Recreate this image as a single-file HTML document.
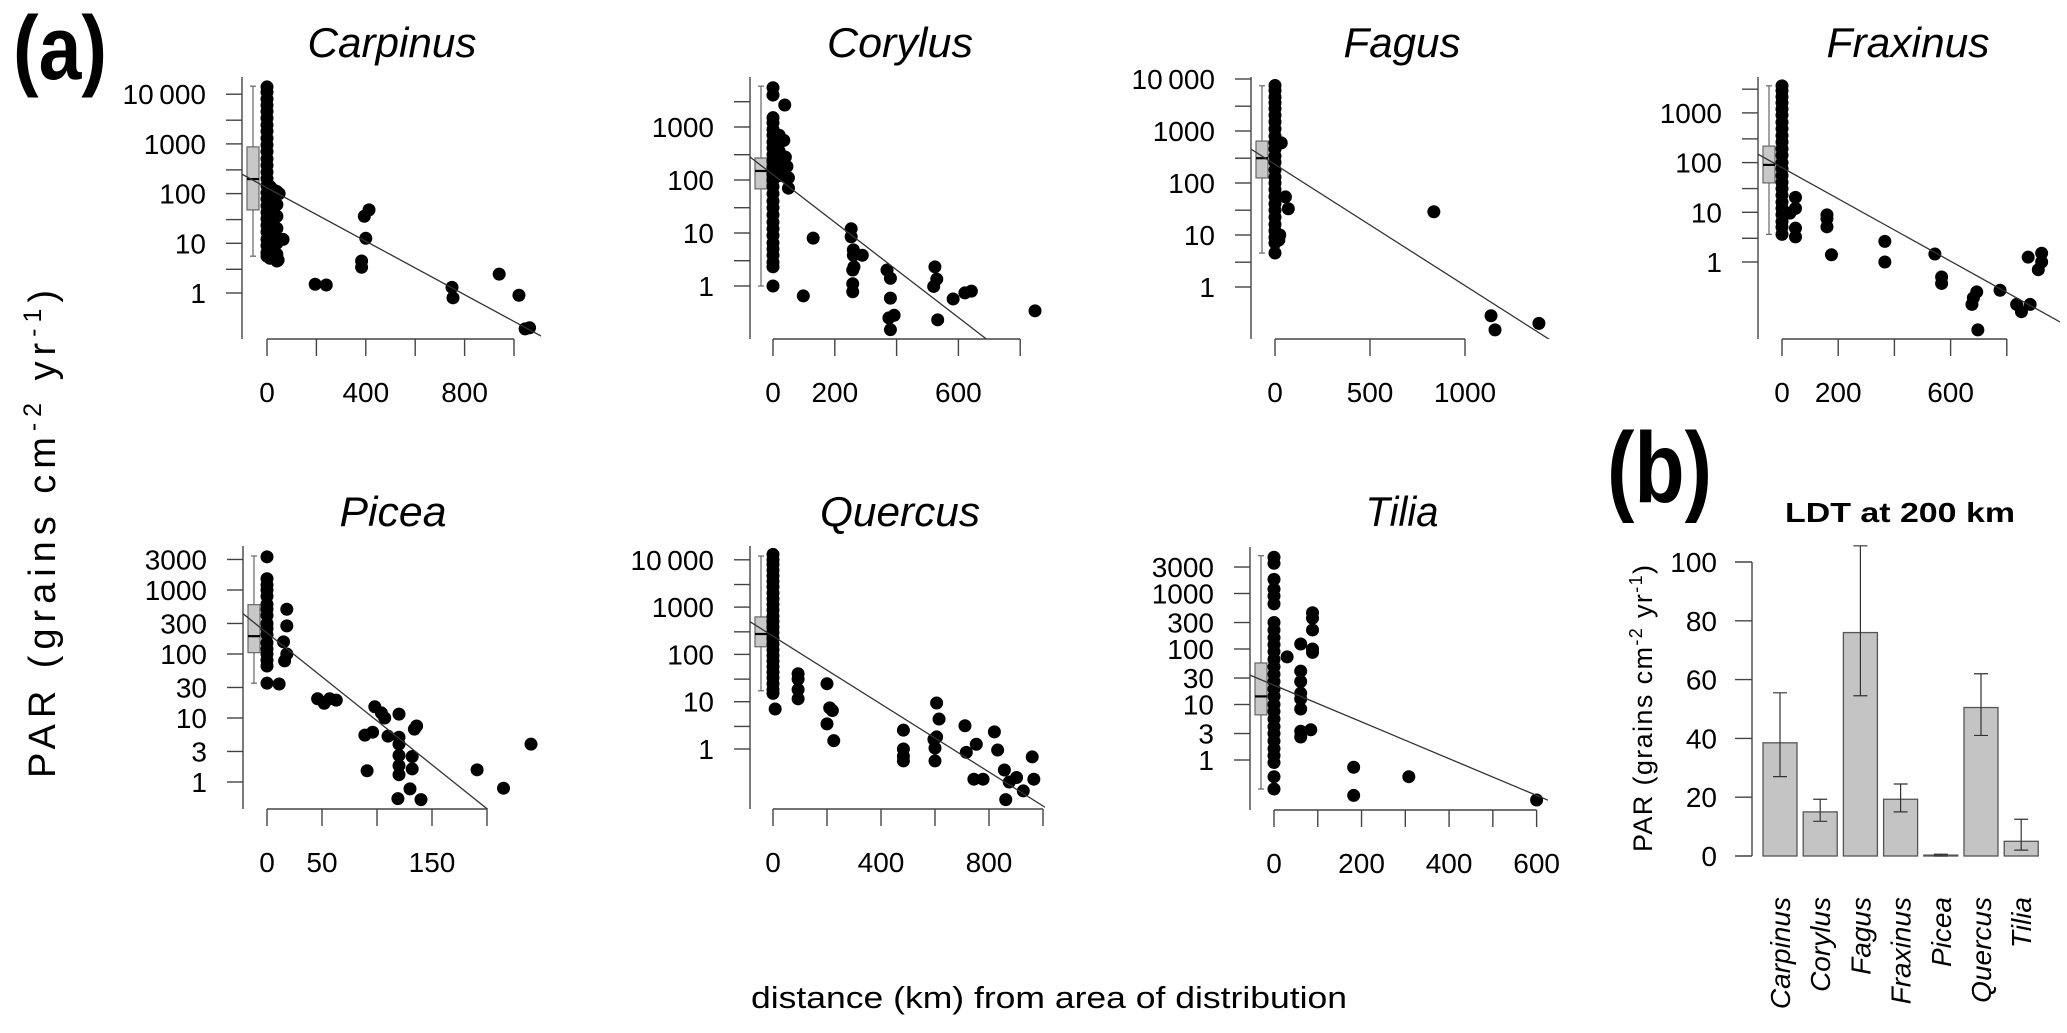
<!DOCTYPE html>
<html><head><meta charset="utf-8"><style>
html,body{margin:0;padding:0;background:#fff;}
svg{display:block;font-family:"Liberation Sans",Arial,sans-serif;}
</style></head><body>
<svg id="chart" width="2067" height="1033" viewBox="0 0 2067 1033" xmlns="http://www.w3.org/2000/svg">
<defs id="defs"></defs>
<text x="13" y="79" font-size="90" font-weight="bold" textLength="94" lengthAdjust="spacingAndGlyphs">(a)</text>
<text x="1607" y="502" font-size="100" font-weight="bold" textLength="105" lengthAdjust="spacingAndGlyphs">(b)</text>
<text x="751" y="1008" font-size="31" textLength="596" lengthAdjust="spacingAndGlyphs">distance (km) from area of distribution</text>
<text transform="translate(55,778) rotate(-90)" font-size="38" textLength="488" lengthAdjust="spacing">PAR (grains cm<tspan font-size="25" dy="-14">-2</tspan><tspan dy="14"> yr</tspan><tspan font-size="25" dy="-14">-1</tspan><tspan dy="14">)</tspan></text>
<text x="1785" y="522" font-size="28" font-weight="bold" textLength="230" lengthAdjust="spacingAndGlyphs">LDT at 200 km</text>
<text transform="translate(1652,852) rotate(-90)" font-size="27" textLength="287" lengthAdjust="spacing">PAR (grains cm<tspan font-size="18" dy="-10">-2</tspan><tspan dy="10"> yr</tspan><tspan font-size="18" dy="-10">-1</tspan><tspan dy="10">)</tspan></text>
</svg>
<script>
// ---------- scatter data ----------
const carpinusKm  = [0,0,0,0,0,0,0,0,0,0,0,0,0,0,0,0,0,0,0,0,0,0,0,0,0,0,0, 12,12,12,12,12,12,12,12,12,12,12, 25,25,25,25,25,25,25,25,25, 40,40,40,40,40,40,40, 49,65,45,195,240,413,394,400,383,383,749,753,940,1020,1045,1063];
const carpinusPar = [14000,11000,8000,6000,4500,3300,2400,1800,1300,950,700,500,370,270,200,145,105,78,57,42,31,23,17,12,9,6.5,5.5, 140,100,70,50,35,25,18,13,9,6.5,5, 120,80,55,38,26,17,11,7,5, 110,60,35,20,10,6,4.4, 100,12,4.6,1.5,1.45,47,35,12.6,4.4,3.3,1.3,0.8,2.4,0.9,0.19,0.2];
const corylusKm  = [0,0,0,0,0,0,0,0,0,0,0,0,0,0,0,0,0,0,0,0,0,0,0,0,0,0,0, 20,20,20,20,20,20, 38,35,40,45,50,50,130,98,253,253,260,260,262,258,258,258,289,369,380,380,375,380,392,524,530,520,533,583,621,642,848];
const corylusPar = [5500,4000,1500,1200,900,700,520,400,300,230,170,130,100,75,55,40,30,22,16,12,9,6.5,5,3.8,2.8,2.3,1, 700,500,350,250,180,120, 2600,560,270,180,110,70,8,0.65,12,8.5,3.8,4.8,2.3,2,1.1,0.78,3.8,2,1.4,0.59,0.25,0.15,0.28,2.3,1.35,0.98,0.23,0.57,0.74,0.8,0.34];
const fagusKm  = [0,0,0,0,0,0,0,0,0,0,0,0,0,0,0,0,0,0,0,0,0,0,0,0,0,0, 33,55,70,25,20,836,1137,1158,1389];
const fagusPar = [7500,6000,4500,3500,2700,2000,1500,1100,800,600,450,330,250,180,130,100,75,55,40,30,22,16,12,9,7,4.5, 590,54,32,10,8,28,0.28,0.15,0.2];
const fraxinusKm  = [0,0,0,0,0,0,0,0,0,0,0,0,0,0,0,0,0,0,0,0,0,0,0,0, 28,48,48,48,48,160,160,160,176,366,366,544,568,568,693,681,676,697,776,835,852,883,876,924,912,924];
const fraxinusPar = [3500,2800,2100,1600,1200,900,650,480,350,260,190,140,100,75,55,40,30,22,16,12,9,6.5,5,3.6, 9.6,20,12,4.8,3.2,8.9,7.4,5.1,1.4,2.6,1.0,1.45,0.5,0.37,0.25,0.19,0.14,0.043,0.27,0.14,0.1,0.14,1.25,1.5,0.7,1.0];
const piceaKm  = [0,0,0,0,0,0,0,0,0,0,0,0,0,0,0,0,0, 11,15,16,18,18,18,46,52,57,63,89,91,98,104,107,96,110,120,120,120,120,120,120,134,136,132,132,130,119,140,191,215,240];
const piceaPar = [3300,1500,1200,1000,800,600,500,400,300,250,200,150,120,100,80,65,35, 34,155,78,100,500,275,20,17,20,19,5.4,1.5,15,12,10,6,5.2,11.5,5,3.9,2.6,1.8,1.3,6.7,7.5,2.5,1.6,0.78,0.55,0.53,1.55,0.8,3.9];
const quercusKm  = [0,0,0,0,0,0,0,0,0,0,0,0,0,0,0,0,0,0,0,0,0,0,0,0,0,0, 8,93,93,93,93,200,210,220,200,225,483,483,483,483,606,615,596,606,600,600,711,716,753,744,778,820,832,857,862,875,902,927,966,960];
const quercusPar = [13000,10000,8000,6000,4600,3500,2700,2000,1500,1150,870,650,500,380,290,220,165,125,95,72,55,42,32,24,18,15, 7,39,30,18,11.5,24,7.4,6.5,3.4,1.5,2.5,1,0.7,0.56,9.4,4.3,1.6,1.8,1.05,0.56,3.1,0.85,1.26,0.23,0.23,2.3,0.95,0.36,0.085,0.2,0.25,0.13,0.23,0.68];
const tiliaKm  = [0,0,0,0,0,0,0,0,0,0,0,0,0,0,0,0,0,0,0,0,0,0,0,0,0,0,0,0, 30,61,61,61,61,61,61,61,61,88,88,88,88,88,84,182,182,308,600];
const tiliaPar = [4500,3500,1800,1200,900,650,300,220,160,120,90,65,48,35,26,19,14,10,7.5,5.5,4,3,2.2,1.6,1.2,0.9,0.5,0.3, 72,123,40,26,16,12.6,8.3,2.6,3.3,100,360,450,220,87,3.5,0.74,0.23,0.5,0.19];
// box stats: [lower whisker, q1, median, q3, upper whisker]
const carpinusBox = [5.5,47,196,870,14500];
const corylusBox  = [1,68,148,260,5900];
const fagusBox    = [4.5,125,300,640,7400];
const fraxinusBox = [3.6,39,90,215,3500];
const piceaBox    = [35,105,190,590,3400];
const quercusBox  = [17,145,270,620,12000];
const tiliaBox    = [0.3,6.5,14,56,4800];
// regression: [log10 intercept, slope per km]
const carpinusFit = [2.118,-0.00269];
const corylusFit  = [2.10,-0.00449];
const fagusFit    = [2.357,-0.00233];
const fraxinusFit = [1.90,-0.00314];
const piceaFit    = [2.33,-0.01374];
const quercusFit  = [2.385,-0.00359];
const tiliaFit    = [1.348,-0.00331];
// ---------- bar data ----------
const barNames = ["Carpinus","Corylus","Fagus","Fraxinus","Picea","Quercus","Tilia"];
const barValues = [38.5,15,76,19.3,0.3,50.5,5];
const barLower = [27,11.8,54.5,15,0,41,2];
const barUpper = [55.5,19.3,105.5,24.5,0.6,62,12.5];
const barTicks = [0,20,40,60,80,100];

const NS = 'http://www.w3.org/2000/svg';
const svg = document.getElementById('chart');
const defs = document.getElementById('defs');
function mk(tag, attrs, parent){
  const e = document.createElementNS(NS, tag);
  for (const k in attrs) e.setAttribute(k, attrs[k]);
  (parent || svg).appendChild(e);
  return e;
}
const AX = '#444';

const layouts = [
  {id:'carpinus', title:'Carpinus', tx:392, ty:57, tw:169, ax:242, x0:267, kx:0.247, y1:293, dec:49.7, yTop:77, yBot:339, right:541, xTicks:[0,200,400,600,800,1000], xLabels:[0,400,800], majors:[1,10,100,1000,10000], minors:[3,30,300,3000]},
  {id:'corylus', title:'Corylus', tx:900, ty:57, tw:146, ax:750, x0:773, kx:0.309, y1:286, dec:53, yTop:77, yBot:339, right:1042, xTicks:[0,200,400,600,800], xLabels:[0,200,600], majors:[1,10,100,1000], minors:[3,30,300,3000]},
  {id:'fagus', title:'Fagus', tx:1402, ty:57, tw:117, ax:1251, x0:1275, kx:0.19, y1:287, dec:52, yTop:77, yBot:339, right:1550, xTicks:[0,500,1000], xLabels:[0,500,1000], majors:[1,10,100,1000,10000], minors:[3,30,300,3000]},
  {id:'fraxinus', title:'Fraxinus', tx:1908, ty:57, tw:163, ax:1758, x0:1782, kx:0.281, y1:262, dec:49.7, yTop:77, yBot:339, right:2060, xTicks:[0,200,400,600,800], xLabels:[0,200,600], majors:[1,10,100,1000], minors:[3,30,300,3000]},
  {id:'picea', title:'Picea', tx:393, ty:526, tw:107, ax:243, x0:267, kx:1.1, y1:782, dec:64, yTop:546, yBot:809, right:545, xTicks:[0,50,100,150,200], xLabels:[0,50,150], majors:[1,3,10,30,100,300,1000,3000], minors:[]},
  {id:'quercus', title:'Quercus', tx:900, ty:526, tw:160, ax:750, x0:773, kx:0.27, y1:749, dec:47.3, yTop:546, yBot:809, right:1045, xTicks:[0,200,400,600,800,1000], xLabels:[0,400,800], majors:[1,10,100,1000,10000], minors:[3,30,300,3000]},
  {id:'tilia', title:'Tilia', tx:1402, ty:526, tw:73, ax:1250, x0:1274, kx:0.4377, y1:760, dec:55.5, yTop:547, yBot:810, right:1548, xTicks:[0,100,200,300,400,500,600], xLabels:[0,200,400,600], majors:[1,3,10,30,100,300,1000,3000], minors:[]}
];
const series = {
  carpinus:[carpinusKm,carpinusPar,carpinusBox,carpinusFit],
  corylus:[corylusKm,corylusPar,corylusBox,corylusFit],
  fagus:[fagusKm,fagusPar,fagusBox,fagusFit],
  fraxinus:[fraxinusKm,fraxinusPar,fraxinusBox,fraxinusFit],
  picea:[piceaKm,piceaPar,piceaBox,piceaFit],
  quercus:[quercusKm,quercusPar,quercusBox,quercusFit],
  tilia:[tiliaKm,tiliaPar,tiliaBox,tiliaFit]
};
function fmt(v){ return v >= 10000 ? String(v).replace(/(\d+)(\d{3})$/, '$1\u2009$2') : String(v); }

layouts.forEach(L => {
  const [km, par, box, fit] = series[L.id];
  const xs = k => L.x0 + k * L.kx;
  const ys = v => L.y1 - Math.log10(v) * L.dec;
  const g = mk('g', {});
  
  
  const t = mk('text', {x:L.tx, y:L.ty, 'font-size':42, 'font-style':'italic', 'text-anchor':'middle', textLength:L.tw, lengthAdjust:'spacingAndGlyphs'}, g);
  t.textContent = L.title;
  
  
  const ya = mk('line', {x1:L.ax, x2:L.ax, y1:L.yTop, y2:L.yBot, stroke:AX, 'stroke-width':1.4}, g);
  
  
  L.majors.concat(L.minors).forEach(v => {
    const y = ys(v);
    const tk = mk('line', {x1:L.ax-16, x2:L.ax, y1:y, y2:y, stroke:AX, 'stroke-width':1.4}, g);
    
    
  });
  L.majors.forEach(v => {
    const lb = mk('text', {x:L.ax-36, y:ys(v)+10, 'font-size':28, 'text-anchor':'end'}, g);
    lb.textContent = fmt(v);
    
    
  });
  const xEnd = xs(L.xTicks[L.xTicks.length-1]);
  const xa = mk('line', {x1:xs(0), x2:xEnd, y1:L.yBot, y2:L.yBot, stroke:AX, 'stroke-width':1.4}, g);
  
  
  L.xTicks.forEach(k => {
    const tk = mk('line', {x1:xs(k), x2:xs(k), y1:L.yBot, y2:L.yBot+17, stroke:AX, 'stroke-width':1.4}, g);
    
    
  });
  L.xLabels.forEach(k => {
    const lb = mk('text', {x:xs(k), y:L.yBot+63, 'font-size':28, 'text-anchor':'middle'}, g);
    lb.textContent = String(k);
    
    
  });
  const bx = L.ax + 11;
  const wl = mk('line', {x1:bx, x2:bx, y1:ys(box[4]), y2:ys(box[0]), stroke:'#666', 'stroke-width':1.2}, g);
  
  
  [box[0], box[4]].forEach(v => {
    const c = mk('line', {x1:bx-3, x2:bx+3, y1:ys(v), y2:ys(v), stroke:'#666', 'stroke-width':1.2}, g);
    
    
  });
  const br = mk('rect', {x:bx-6, y:ys(box[3]), width:12, height:ys(box[1])-ys(box[3]), fill:'#c8c8c8', stroke:'#666', 'stroke-width':1.2}, g);
  
  
  const md = mk('line', {x1:bx-6, x2:bx+6, y1:ys(box[2]), y2:ys(box[2]), stroke:'#000', 'stroke-width':2.2}, g);
  
  
  km.forEach((k, i) => {
    const c = mk('circle', {cx:xs(k), cy:ys(par[i]), r:6.5, fill:'#000'}, g);
    
    
  });
  const cp = mk('clipPath', {id:'clip-' + L.id}, defs);
  mk('rect', {x:L.ax, y:L.yTop, width:L.right-L.ax, height:L.yBot-L.yTop}, cp);
  const kA = (L.ax - L.x0) / L.kx, kB = (L.right - L.x0) / L.kx;
  const fl = mk('line', {x1:xs(kA), y1:L.y1 - (fit[0] + fit[1]*kA)*L.dec, x2:xs(kB), y2:L.y1 - (fit[0] + fit[1]*kB)*L.dec, stroke:'#333', 'stroke-width':1.3, 'clip-path':'url(#clip-' + L.id + ')'}, g);
  
  
});

// ---------- bar chart ----------
const bAx = 1752, bBase = 856, bK = 2.94, bLeft = 1763, bW = 34, bPitch = 40.2;
const by = v => bBase - v * bK;
const bg = mk('g', {});


const bya = mk('line', {x1:bAx, x2:bAx, y1:by(100), y2:by(0), stroke:AX, 'stroke-width':1.4}, bg);


barTicks.forEach(v => {
  const tk = mk('line', {x1:bAx-17, x2:bAx, y1:by(v), y2:by(v), stroke:AX, 'stroke-width':1.4}, bg);
  
  
  const lb = mk('text', {x:bAx-35, y:by(v)+10, 'font-size':28, 'text-anchor':'end'}, bg);
  lb.textContent = String(v);
  
  
});
barNames.forEach((n, i) => {
  const x = bLeft + i * bPitch, cx = x + bW/2;
  const r = mk('rect', {x:x, y:by(barValues[i]), width:bW, height:Math.max(by(0)-by(barValues[i]),0.5), fill:'#c4c4c4', stroke:'#555', 'stroke-width':1.3}, bg);
  
  
  const e = mk('path', {d:`M${cx-7},${by(barUpper[i])}H${cx+7}M${cx},${by(barUpper[i])}V${by(barLower[i])}M${cx-7},${by(barLower[i])}H${cx+7}`, stroke:'#333', 'stroke-width':1.2, fill:'none'}, bg);
  
  
  const t = mk('text', {transform:`translate(${cx+10},897) rotate(-90)`, 'font-size':28, 'font-style':'italic', 'text-anchor':'end'}, bg);
  t.textContent = n;
  
  
});
</script>
</body></html>
